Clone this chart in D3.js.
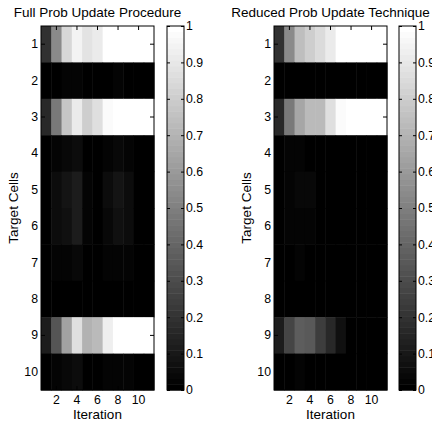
<!DOCTYPE html>
<html>
<head>
<meta charset="utf-8">
<script src="https://cdn.jsdelivr.net/npm/d3@7"></script>
<style>
  body { margin: 0; background: #fff; }
  svg { display: block; font-family: "Liberation Sans", Arial, sans-serif; }
</style>
</head>
<body>
<div id="container"></div>
<script>
// data (gray level 0..1)
const iterations = [1, 2, 3, 4, 5, 6, 7, 8, 9, 10, 11];
const cells = [1, 2, 3, 4, 5, 6, 7, 8, 9, 10];
const iterTicks = [2, 4, 6, 8, 10];
const barTicks = [0, 0.1, 0.2, 0.3, 0.4, 0.5, 0.6, 0.7, 0.8, 0.9, 1];

const fullProb = [
  [0.20, 0.54, 0.84, 0.95, 0.89, 0.91, 1, 1, 1, 1, 1],
  [0.01, 0.01, 0.02, 0.03, 0.01, 0.01, 0.01, 0.02, 0.01, 0, 0],
  [0.17, 0.47, 0.77, 0.92, 0.81, 0.86, 0.97, 1, 1, 1, 1],
  [0.00, 0.03, 0.04, 0.05, 0.01, 0.01, 0.02, 0.04, 0.03, 0.01, 0],
  [0.01, 0.06, 0.08, 0.12, 0.03, 0.01, 0.05, 0.08, 0.06, 0.01, 0],
  [0.01, 0.05, 0.07, 0.11, 0.03, 0.01, 0.04, 0.07, 0.05, 0.01, 0],
  [0.01, 0.02, 0.03, 0.04, 0.01, 0.01, 0.02, 0.03, 0.02, 0, 0],
  [0.00, 0.01, 0.01, 0.01, 0.00, 0.00, 0.01, 0.01, 0.01, 0, 0],
  [0.12, 0.33, 0.63, 0.87, 0.69, 0.72, 0.93, 1, 1, 1, 1],
  [0.01, 0.03, 0.04, 0.05, 0.01, 0.01, 0.02, 0.03, 0.02, 0.01, 0]
];

const reducedProb = [
  [0.20, 0.54, 0.74, 0.81, 0.85, 0.92, 1, 1, 1, 1, 1],
  [0, 0, 0, 0, 0, 0, 0, 0, 0, 0, 0],
  [0.17, 0.47, 0.65, 0.73, 0.73, 0.87, 0.97, 1, 1, 1, 1],
  [0, 0.02, 0.02, 0.01, 0, 0, 0, 0, 0, 0, 0],
  [0, 0.02, 0.04, 0.04, 0, 0, 0, 0, 0, 0, 0],
  [0, 0.03, 0.03, 0.03, 0, 0, 0, 0, 0, 0, 0],
  [0, 0.01, 0.02, 0.01, 0, 0, 0, 0, 0, 0, 0],
  [0, 0, 0, 0, 0, 0, 0, 0, 0, 0, 0],
  [0.11, 0.28, 0.37, 0.35, 0.24, 0.17, 0.07, 0, 0, 0, 0],
  [0, 0.01, 0.02, 0.01, 0, 0, 0, 0, 0, 0, 0]
];

const W = 432, H = 426;
const yTop = 26, yBottom = 390;
const nLevels = 64;
const tickFont = 12.3, labelFont = 13.5;

// matlab-like 64 step gray map
const gray = v => {
  const k = Math.min(nLevels - 1, Math.floor(v * nLevels));
  const g = Math.round(255 * k / (nLevels - 1));
  return d3.rgb(g, g, g).toString();
};

const svg = d3.select("#container")
  .append("svg")
  .attr("width", W)
  .attr("height", H);

function drawPanel(data, left, right, title, cbLeft) {
  const x = d3.scaleBand().domain(iterations).range([left, right]);
  const y = d3.scaleBand().domain(cells).range([yTop, yBottom]);
  const g = svg.append("g");

  data.forEach((row, i) => {
    g.selectAll(null)
      .data(row)
      .enter()
      .append("rect")
      .attr("x", (d, j) => x(iterations[j]))
      .attr("y", y(cells[i]))
      .attr("width", x.bandwidth() + 0.5)
      .attr("height", y.bandwidth() + 0.5)
      .attr("fill", d => gray(d));
  });

  const yAxis = d3.axisLeft(y).tickSize(-4).tickPadding(3);
  const xAxis = d3.axisBottom(x).tickValues(iterTicks).tickSize(-4).tickPadding(5);

  g.append("g").attr("transform", `translate(${left},0)`).call(yAxis);
  g.append("g").attr("transform", `translate(${right},0)`)
    .call(d3.axisRight(y).tickSize(-4).tickFormat(""));
  g.append("g").attr("transform", `translate(0,${yBottom})`).call(xAxis);
  g.append("g").attr("transform", `translate(0,${yTop})`)
    .call(d3.axisTop(x).tickValues(iterTicks).tickSize(-4).tickFormat(""));

  g.selectAll(".domain").remove();
  g.selectAll(".tick text").attr("font-size", tickFont).attr("font-family", null);
  g.selectAll(".tick line").attr("stroke", "#000");

  g.append("rect")
    .attr("x", left).attr("y", yTop)
    .attr("width", right - left).attr("height", yBottom - yTop)
    .attr("fill", "none").attr("stroke", "#000");

  g.append("text")
    .attr("x", (left + right) / 2).attr("y", 17)
    .attr("text-anchor", "middle").attr("font-size", labelFont)
    .text(title);

  g.append("text")
    .attr("x", (left + right) / 2).attr("y", 419)
    .attr("text-anchor", "middle").attr("font-size", labelFont)
    .text("Iteration");

  g.append("text")
    .attr("transform", `translate(${left - 23},${(yTop + yBottom) / 2}) rotate(-90)`)
    .attr("text-anchor", "middle").attr("font-size", labelFont)
    .text("Target Cells");

  // colorbar
  const cbW = 17;
  const c = d3.scaleLinear().domain([0, 1]).range([yBottom, yTop]);
  const levels = d3.range(nLevels);
  g.selectAll(null)
    .data(levels)
    .enter()
    .append("rect")
    .attr("x", cbLeft)
    .attr("y", k => c((k + 1) / nLevels))
    .attr("width", cbW)
    .attr("height", (yBottom - yTop) / nLevels + 0.5)
    .attr("fill", k => gray((k + 0.5) / nLevels));

  g.append("g").attr("transform", `translate(${cbLeft + cbW},0)`)
    .call(d3.axisRight(c).tickValues(barTicks).tickSize(-3).tickPadding(2).tickFormat(d3.format("")));
  g.append("g").attr("transform", `translate(${cbLeft},0)`)
    .call(d3.axisLeft(c).tickValues(barTicks).tickSize(-3).tickFormat(""));
  g.selectAll(".domain").remove();
  g.selectAll(".tick text").attr("font-size", tickFont).attr("font-family", null);
  g.selectAll(".tick line").attr("stroke", "#000");

  g.append("rect")
    .attr("x", cbLeft).attr("y", yTop)
    .attr("width", cbW).attr("height", yBottom - yTop)
    .attr("fill", "none").attr("stroke", "#000");
}

drawPanel(fullProb, 41, 154, "Full Prob Update Procedure", 167);
drawPanel(reducedProb, 274, 387, "Reduced Prob Update Technique", 399);
</script>
</body>
</html>
